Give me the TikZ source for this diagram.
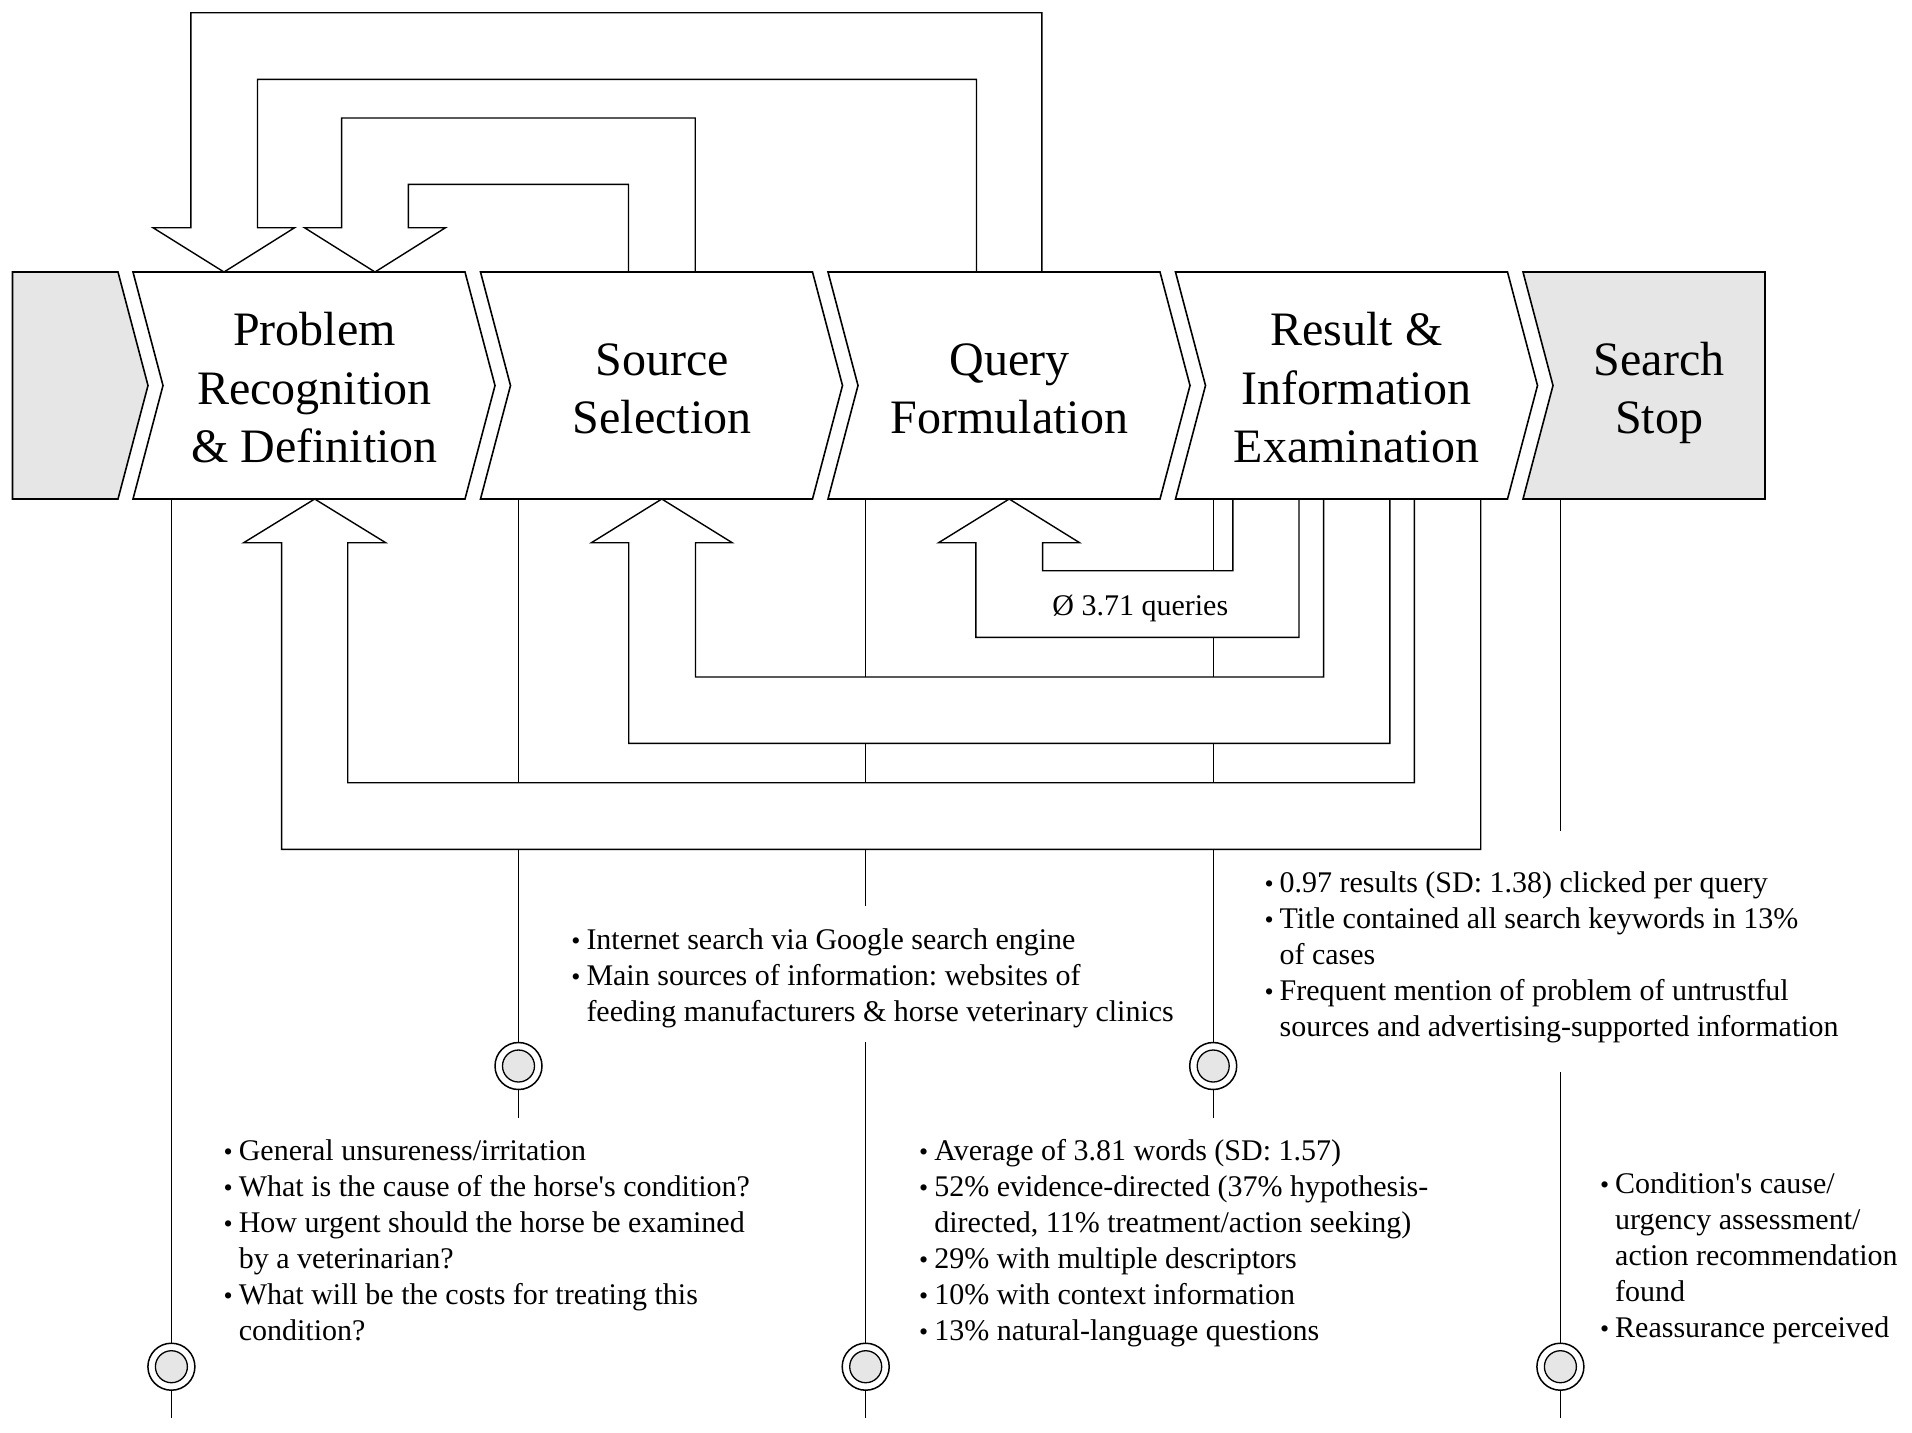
\documentclass[tikz,border=0pt]{standalone}
\usepackage{fontspec}
\setmainfont{Liberation Serif}[Ligatures=TeXOff]
\definecolor{stagegray}{HTML}{E6E6E6}
\newcommand{\lbul}{{\fontsize{13}{13}\selectfont\textbullet}}
\frenchspacing
\begin{document}
\begin{tikzpicture}[x=0.5pt,y=-0.5pt,
  stage/.style={draw=black,line width=0.8pt,fill=white,line join=miter},
  graystage/.style={stage,fill=stagegray},
  bigarrow/.style={draw=black,line width=0.7pt,fill=white,line join=miter},
  timeline/.style={draw=black,line width=0.55pt},
  stagetext/.style={font=\fontsize{24}{29.25}\selectfont,inner sep=0pt,anchor=base},
  listtext/.style={font=\fontsize{15}{18}\selectfont,inner sep=0pt,anchor=base west},
  ring/.style={draw=black,line width=0.75pt,fill=white,circle,minimum size=23.5pt,inner sep=0pt},
  core/.style={draw=black,line width=0.65pt,fill=stagegray,circle,minimum size=16pt,inner sep=0pt}
]
\fill[white] (0,0) rectangle (1912,1432);
\useasboundingbox (0,0) rectangle (1912,1432);

% ---------- timelines ----------
\draw[timeline] (171.4,499) -- (171.4,1418.4);
\draw[timeline] (518.5,499) -- (518.5,1117.5);
\draw[timeline] (865.7,499) -- (865.7,906);
\draw[timeline] (865.7,1042) -- (865.7,1418.4);
\draw[timeline] (1213.2,499) -- (1213.2,1117.5);
\draw[timeline] (1560.4,499) -- (1560.4,830.7);
\draw[timeline] (1560.4,1072.2) -- (1560.4,1418.4);

% ---------- milestone circles ----------
\foreach \n/\x/\y in {c1/171.4/1366.7, c2/518.5/1066, c3/865.7/1366.7, c4/1213.2/1066, c5/1560.4/1366.7}{
  \node[ring] (\n) at (\x,\y) {};
  \node[core] (\n i) at (\x,\y) {};
}

% ---------- feedback arrows below the stages ----------
\draw[bigarrow] (1414.4,499) -- (1414.4,782.7) -- (347.7,782.7) -- (347.7,542.7) -- (385.7,542.7)
  -- (314.7,499) -- (243.7,542.7) -- (281.6,542.7) -- (281.6,849.3) -- (1480.7,849.3) -- (1480.7,499);
\draw[bigarrow] (1323.6,499) -- (1323.6,677) -- (695.5,677) -- (695.5,542.7) -- (732.2,542.7)
  -- (661.8,499) -- (591.4,542.7) -- (628.7,542.7) -- (628.7,743.3) -- (1389.9,743.3) -- (1389.9,499);
\draw[bigarrow] (1232.8,499) -- (1232.8,570.7) -- (1042.6,570.7) -- (1042.6,542.7) -- (1079.6,542.7)
  -- (1009.2,499) -- (938.6,542.7) -- (975.8,542.7) -- (975.8,637.3) -- (1299,637.3) -- (1299,499);

% ---------- feedback arrows above the stages ----------
\draw[bigarrow] (976.5,272) -- (976.5,79.3) -- (257.5,79.3) -- (257.5,227.7) -- (294.6,227.7)
  -- (224,272) -- (153,227.7) -- (190.8,227.7) -- (190.8,12.7) -- (1041.8,12.7) -- (1041.8,272);
\draw[bigarrow] (628.5,272) -- (628.5,184.3) -- (408.3,184.3) -- (408.3,227.7) -- (445.5,227.7)
  -- (375,272) -- (304.5,227.7) -- (341.6,227.7) -- (341.6,118) -- (695.2,118) -- (695.2,272);

% ---------- stage chevrons ----------
\draw[graystage] (12.5,272) -- (118,272) -- (148,385.5) -- (118,499) -- (12.5,499) -- cycle;
\foreach \L in {133,480.5,828,1175.5}{
  \draw[stage] (\L,272) -- ++(332,0) -- ++(30,113.5) -- ++(-30,113.5) -- ++(-332,0) -- ++(30,-113.5) -- cycle;
}
\draw[graystage] (1523,272) -- (1765,272) -- (1765,499) -- (1523,499) -- (1553,385.5) -- cycle;

% ---------- stage labels ----------
\node[stagetext] (prob) at (314.5,345.5) {\begin{tabular}[t]{@{}c@{}}Problem\\Recognition\\\& Definition\end{tabular}};
\node[stagetext] (src) at (662,375.2) {\begin{tabular}[t]{@{}c@{}}Source\\Selection\end{tabular}};
\node[stagetext] (qry) at (1009.5,375.2) {\begin{tabular}[t]{@{}c@{}}Query\\Formulation\end{tabular}};
\node[stagetext] (res) at (1356.5,345.5) {\begin{tabular}[t]{@{}c@{}}Result \&\\Information\\Examination\end{tabular}};
\node[stagetext] (stop) at (1659,375.2) {\begin{tabular}[t]{@{}c@{}}Search\\Stop\end{tabular}};

% ---------- loop label ----------
\node[listtext] (loop) at (1052,615) {Ø 3.71 queries};

% ---------- bullet lists ----------
\node[listtext] (plist) at (223.3,1160) {\begin{tabular}[t]{@{}l@{\hspace{3pt}}l@{}}
\lbul & General unsureness/irritation\\
\lbul & What is the cause of the horse's condition?\\
\lbul & How urgent should the horse be examined\\
 & by a veterinarian?\\
\lbul & What will be the costs for treating this\\
 & condition?
\end{tabular}};

\node[listtext] (slist) at (571,949.5) {\begin{tabular}[t]{@{}l@{\hspace{3pt}}l@{}}
\lbul & Internet search via Google search engine\\
\lbul & Main sources of information: websites of\\
 & feeding manufacturers \& horse veterinary clinics
\end{tabular}};

\node[listtext] (qlist) at (918.8,1160) {\begin{tabular}[t]{@{}l@{\hspace{3pt}}l@{}}
\lbul & Average of 3.81 words (SD: 1.57)\\
\lbul & 52\% evidence-directed (37\% hypothesis-\\
 & directed, 11\% treatment/action seeking)\\
\lbul & 29\% with multiple descriptors\\
\lbul & 10\% with context information\\
\lbul & 13\% natural-language questions
\end{tabular}};

\node[listtext] (rlist) at (1264.1,892) {\begin{tabular}[t]{@{}l@{\hspace{3pt}}l@{}}
\lbul & 0.97 results (SD: 1.38) clicked per query\\
\lbul & Title contained all search keywords in 13\%\\
 & of cases\\
\lbul & Frequent mention of problem of untrustful\\
 & sources and advertising-supported information
\end{tabular}};

\node[listtext] (stlist) at (1599.7,1193) {\begin{tabular}[t]{@{}l@{\hspace{3pt}}l@{}}
\lbul & Condition's cause/\\
 & urgency assessment/\\
 & action recommendation\\
 & found\\
\lbul & Reassurance perceived
\end{tabular}};
\end{tikzpicture}
\end{document}
